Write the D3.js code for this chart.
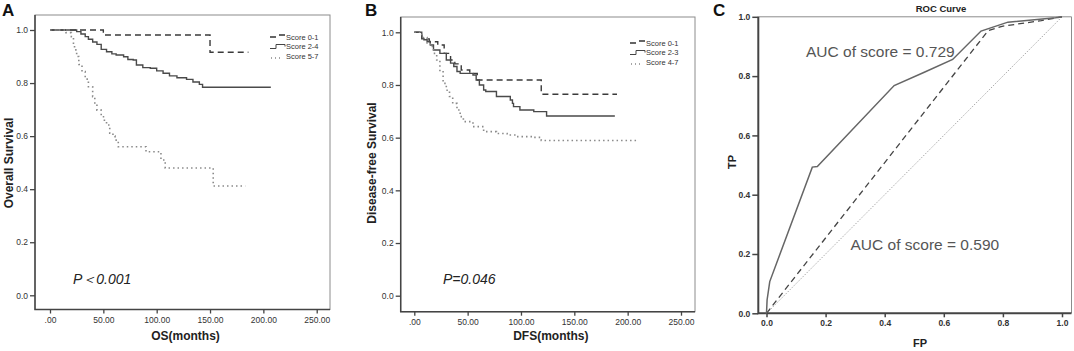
<!DOCTYPE html>
<html>
<head>
<meta charset="utf-8">
<script src="https://cdn.jsdelivr.net/npm/d3@7"></script>
<style>
  body { margin: 0; background: #fff; }
  svg { display: block; font-family: "Liberation Sans", Arial, sans-serif; }
</style>
</head>
<body>
<div id="plot"></div>
<script>
// ---- panel A: overall survival (month, survival at and after that month)
const osTicksX = [0, 50, 100, 150, 200, 250];
const survTicksY = [0, 0.2, 0.4, 0.6, 0.8, 1.0];
const osScore01 = [[0,1],[50,0.981],[150,0.916],[186,0.916]];
const osScore24 = [[0,1],[25,0.994],[29,0.985],[33,0.975],[36,0.965],[40,0.955],[44,0.946],[48,0.927],
  [53,0.918],[58,0.91],[62,0.906],[69,0.899],[73,0.889],[78,0.887],[81,0.868],[87,0.858],[94,0.856],
  [100,0.846],[106,0.837],[112,0.827],[119,0.82],[128,0.814],[134,0.804],[140,0.795],[143,0.784],[207,0.784]];
const osScore57 = [[0,1],[15,0.99],[20,0.975],[22,0.95],[23,0.925],[25,0.9],[27,0.87],[30,0.843],[33,0.815],
  [36,0.786],[40,0.749],[42,0.72],[44,0.698],[48,0.673],[51,0.655],[53,0.642],[56,0.611],[59,0.6],[61,0.585],
  [64,0.56],[90,0.541],[104,0.51],[108,0.48],[153,0.412],[183,0.412]];
const osLegend = ["Score 0-1", "Score 2-4", "Score 5-7"];

// ---- panel B: disease-free survival
const dfsScore01 = [[0,1],[7,0.975],[14,0.964],[22,0.952],[28,0.92],[34,0.895],[38,0.88],[44,0.857],
  [52,0.844],[59,0.819],[119,0.765],[190,0.765]];
const dfsScore23 = [[0,1],[7,0.977],[9,0.972],[12,0.965],[15,0.952],[18,0.933],[24,0.92],[30,0.895],[34,0.883],
  [37,0.87],[40,0.851],[43,0.844],[55,0.838],[58,0.819],[61,0.8],[65,0.781],[67,0.775],[77,0.756],[90,0.743],
  [92,0.73],[93,0.718],[99,0.705],[112,0.699],[124,0.682],[188,0.682]];
const dfsScore47 = [[0,1],[7,0.98],[12,0.96],[15,0.946],[18,0.92],[21,0.895],[24,0.85],[27,0.806],[30,0.78],
  [33,0.756],[36,0.73],[40,0.705],[43,0.68],[46,0.661],[55,0.642],[65,0.623],[77,0.616],[87,0.61],[96,0.604],
  [112,0.601],[119,0.589],[208,0.589]];
const dfsLegend = ["Score 0-1", "Score 2-3", "Score 4-7"];

// ---- panel C: ROC curve (FP, TP)
const rocTicks = [0, 0.2, 0.4, 0.6, 0.8, 1.0];
const rocSolid = [[0,0],[0.002,0.045],[0.011,0.107],[0.155,0.493],[0.172,0.495],[0.432,0.768],
  [0.534,0.813],[0.63,0.856],[0.726,0.952],[0.817,0.982],[0.978,0.997],[1,1]];
const rocDashed = [[0,0],[0.75,0.953],[0.797,0.968],[0.93,0.987],[1,1]];
const rocDiag = [[0,0],[1,1]];

window.addEventListener("load", main);

function main(){
  const width = 1074, height = 351;
  const svg = d3.select("#plot").append("svg")
    .attr("width", width).attr("height", height);

  const styles = [
    {stroke: "#3a3a3a", dash: "6,4", w: 1.4},
    {stroke: "#4a4a4a", dash: null, w: 1.4},
    {stroke: "#8a8a8a", dash: "1.5,3", w: 1.6}
  ];

  function kmPanel(cfg){
    const g = svg.append("g");
    const x = d3.scaleLinear().domain([0, 250]).range(cfg.xr);
    const y = d3.scaleLinear().domain([0, 1]).range(cfg.yr);
    const b = cfg.box;

    // box
    g.append("rect").attr("x", b.l).attr("y", b.t)
      .attr("width", b.r - b.l).attr("height", b.b - b.t)
      .attr("fill", "none").attr("stroke", "#8c8c8c").attr("stroke-width", 1);
    g.append("path").attr("d", `M${b.l},${b.t}V${b.b}H${b.r}`)
      .attr("fill", "none").attr("stroke", "#444").attr("stroke-width", 1.5);

    const ax = g.append("g").attr("transform", `translate(0,${b.b})`)
      .call(d3.axisBottom(x).tickValues(osTicksX).tickSize(4).tickPadding(3)
        .tickFormat(d => d === 0 ? ".00" : d.toFixed(2)));
    const ay = g.append("g").attr("transform", `translate(${b.l},0)`)
      .call(d3.axisLeft(y).tickValues(survTicksY).tickSize(5).tickPadding(2)
        .tickFormat(d3.format(".1f")));
    [ax, ay].forEach(a => {
      a.select(".domain").remove();
      a.selectAll("line").attr("stroke", "#444").attr("stroke-width", 1.3);
      a.selectAll("text").attr("fill", "#333").style("font-size", "8.5px");
    });

    const line = d3.line().x(d => x(d[0])).y(d => y(d[1])).curve(d3.curveStepAfter);
    cfg.series.forEach((s, i) => {
      g.append("path").datum(s).attr("d", line)
        .attr("fill", "none").attr("stroke", styles[i].stroke)
        .attr("stroke-width", styles[i].w)
        .attr("stroke-dasharray", styles[i].dash);
    });

    // legend
    const lg = g.append("g").attr("transform", `translate(${cfg.legend[0]},${cfg.legend[1]})`);
    cfg.names.forEach((n, i) => {
      const yy = i * 9.5;
      if (i === 0) {
        lg.append("path").attr("d", `M0,${yy}H6M9,${yy - 2}H15`).attr("stroke", "#333").attr("stroke-width", 1.6);
      } else if (i === 1) {
        lg.append("path").attr("d", `M0,${yy + 2}H6V${yy - 2}H15V${yy}`).attr("fill", "none")
          .attr("stroke", "#444").attr("stroke-width", 1);
      } else {
        lg.append("path").attr("d", `M1,${yy + 2}H12`).attr("stroke", "#888")
          .attr("stroke-width", 1.3).attr("stroke-dasharray", "1,3");
      }
      lg.append("text").attr("x", 16).attr("y", yy + 2.5).text(n)
        .style("font-size", "7.5px").attr("fill", "#333");
    });

    g.append("text").attr("x", cfg.pPos[0]).attr("y", cfg.pPos[1]).text(cfg.pText)
      .style("font-size", "14px").style("font-style", "italic").attr("fill", "#222");

    g.append("text").attr("x", (b.l + b.r) / 2 + 3).attr("y", 340).attr("text-anchor", "middle")
      .text(cfg.xTitle).style("font-size", "12px").style("font-weight", "bold").attr("fill", "#222");
    g.append("text").attr("transform", `translate(${cfg.yTitleX},163) rotate(-90)`)
      .attr("text-anchor", "middle").text(cfg.yTitle)
      .style("font-size", "12px").style("font-weight", "bold").attr("fill", "#222");
    g.append("text").attr("x", cfg.tag[0]).attr("y", cfg.tag[1]).text(cfg.tagText)
      .style("font-size", "17px").style("font-weight", "bold").attr("fill", "#111");
  }

  kmPanel({
    xr: [50, 316.7], yr: [295.3, 30],
    box: {l: 35, t: 15, r: 330, b: 309.5},
    series: [osScore01, osScore24, osScore57], names: osLegend,
    legend: [270, 37],
    pText: "P＜0.001", pPos: [73, 284],
    xTitle: "OS(months)", yTitle: "Overall Survival", yTitleX: 12.5,
    tag: [2, 16], tagText: "A"
  });

  kmPanel({
    xr: [414.3, 681], yr: [295.7, 32.3],
    box: {l: 400.7, t: 17, r: 695, b: 311.7},
    series: [dfsScore01, dfsScore23, dfsScore47], names: dfsLegend,
    legend: [630, 43],
    pText: "P=0.046", pPos: [443, 284],
    xTitle: "DFS(months)", yTitle: "Disease-free Survival", yTitleX: 376,
    tag: [365, 16], tagText: "B"
  });

  // ---- ROC panel
  const gc = svg.append("g");
  const xc = d3.scaleLinear().domain([0, 1]).range([766.5, 1062]);
  const yc = d3.scaleLinear().domain([0, 1]).range([313.3, 16.8]);

  gc.append("path").attr("d", `M758.3,16.8H1071.5V313.3`)
    .attr("fill", "none").attr("stroke", "#8c8c8c").attr("stroke-width", 1);
  gc.append("path").attr("d", `M758.3,16.8V313.3H1071.5`)
    .attr("fill", "none").attr("stroke", "#444").attr("stroke-width", 2);

  const axc = gc.append("g").attr("transform", "translate(0,313.3)")
    .call(d3.axisBottom(xc).tickValues(rocTicks).tickSize(4).tickPadding(3).tickFormat(d3.format(".1f")));
  const ayc = gc.append("g").attr("transform", "translate(758.3,0)")
    .call(d3.axisLeft(yc).tickValues(rocTicks).tickSize(6).tickPadding(2).tickFormat(d3.format(".1f")));
  [axc, ayc].forEach(a => {
    a.select(".domain").remove();
    a.selectAll("line").attr("stroke", "#444").attr("stroke-width", 1.5);
    a.selectAll("text").attr("fill", "#333").style("font-size", "8.5px").style("font-weight", "bold");
  });

  const lineC = d3.line().x(d => xc(d[0])).y(d => yc(d[1]));
  gc.append("path").datum(rocDiag).attr("d", lineC).attr("fill", "none")
    .attr("stroke", "#aaa").attr("stroke-width", 1).attr("stroke-dasharray", "1.5,1.5");
  gc.append("path").datum(rocDashed).attr("d", lineC).attr("fill", "none")
    .attr("stroke", "#444").attr("stroke-width", 1.3).attr("stroke-dasharray", "6,4");
  gc.append("path").datum(rocSolid).attr("d", lineC).attr("fill", "none")
    .attr("stroke", "#666").attr("stroke-width", 1.5);

  gc.append("text").attr("x", 941).attr("y", 12).attr("text-anchor", "middle").text("ROC Curve")
    .style("font-size", "9.5px").style("font-weight", "bold").attr("fill", "#222");
  gc.append("text").attr("x", 806).attr("y", 57).text("AUC of score = 0.729")
    .style("font-size", "15.5px").attr("fill", "#555");
  gc.append("text").attr("x", 850.5).attr("y", 250).text("AUC of score = 0.590")
    .style("font-size", "15.5px").attr("fill", "#555");
  gc.append("text").attr("x", 920).attr("y", 346.5).attr("text-anchor", "middle").text("FP")
    .style("font-size", "11px").style("font-weight", "bold").attr("fill", "#222");
  gc.append("text").attr("transform", "translate(735.5,162) rotate(-90)").attr("text-anchor", "middle")
    .text("TP").style("font-size", "11px").style("font-weight", "bold").attr("fill", "#222");
  gc.append("text").attr("x", 713).attr("y", 16).text("C")
    .style("font-size", "17px").style("font-weight", "bold").attr("fill", "#111");
}
</script>
</body>
</html>
